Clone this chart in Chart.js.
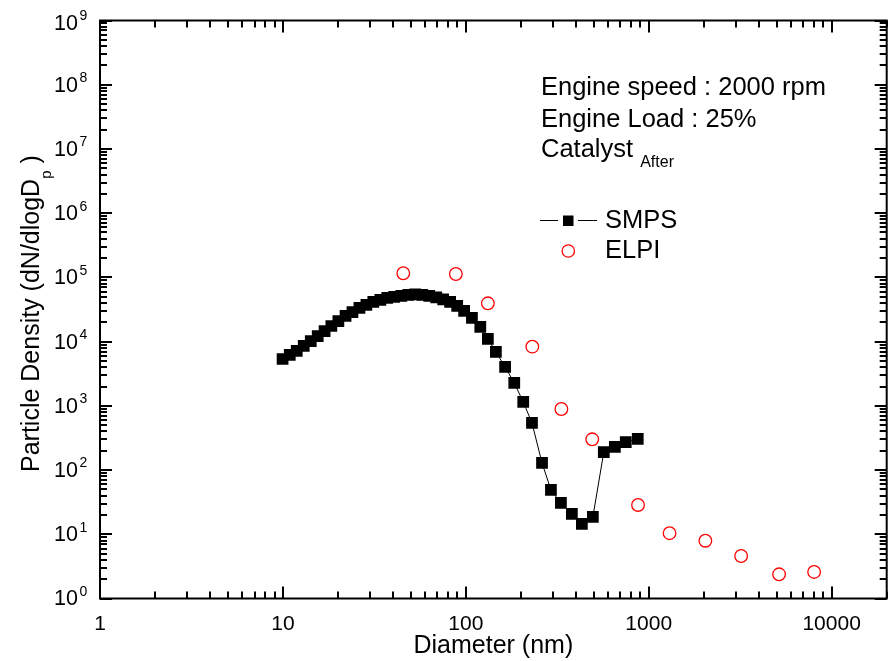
<!DOCTYPE html>
<html>
<head>
<meta charset="utf-8">
<script src="https://cdn.jsdelivr.net/npm/chart.js@4"></script>
<style>
  body { margin: 0; background: #fff; }
  #wrap { width: 895px; height: 661px; }
</style>
</head>
<body>
<div id="wrap"><canvas id="psdChart" width="895" height="661"></canvas></div>
<script>
// SMPS size distribution (nm, dN/dlogDp)
const smpsDiameter = [9.96, 10.9, 11.9, 13.0, 14.2, 15.5, 16.9, 18.4, 20.1, 22.0, 24.0, 26.2, 28.6, 31.2, 34.1,
    37.2, 40.6, 44.4, 48.5, 52.9, 57.8, 63.1, 68.9, 75.2, 82.1, 89.7, 97.9, 108, 120, 132, 146, 164, 184,
    206, 230, 261, 292, 331, 380, 431, 495, 568, 653, 749, 871];
const smpsDensity = [5360, 6190, 7150, 8550, 10200, 12200, 14600, 17500, 20900, 25100, 28900, 33400, 37200, 41500, 44500,
    47800, 49600, 51400, 53300, 54200, 53300, 51400, 48700, 45300, 41400, 35900, 30000, 23400, 16900, 11000, 6900, 4040, 2270,
    1150, 542, 129, 49, 30.7, 20.7, 14.5, 18.6, 191, 229, 273, 305];

// ELPI stages
const elpiDiameter = [45.5, 88.2, 132, 231, 333, 491, 874, 1300, 2040, 3200, 5160, 8020];
const elpiDensity = [115900, 113000, 39500, 8340, 893, 301, 28.6, 10.4, 7.94, 4.59, 2.38, 2.59];

// axis ticks
const xTickValues = [1, 10, 100, 1000, 10000];
const xTickLabels = ['1', '10', '100', '1000', '10000'];
const yTickExponents = [0, 1, 2, 3, 4, 5, 6, 7, 8, 9];

const FONT = '"Liberation Sans", Arial, Helvetica, sans-serif';

function toPoints(xs, ys) {
    return xs.map((v, i) => ({ x: v, y: ys[i] }));
}

// frame, inward ticks, labels, notes and legend
const framePlugin = {
    id: 'framePlugin',
    afterDraw(chart) {
        const ctx = chart.ctx;
        const a = chart.chartArea;
        const xs = chart.scales.x;
        const ys = chart.scales.y;
        ctx.save();
        ctx.strokeStyle = '#000';
        ctx.fillStyle = '#000';
        ctx.lineWidth = 2;
        ctx.strokeRect(a.left, a.top, a.right - a.left, a.bottom - a.top);

        const major = 12, minor = 7;
        ctx.beginPath();
        // x ticks (bottom + top)
        for (let e = 0; e <= 4; e++) {
            for (let m = 1; m <= 9; m++) {
                const v = m * Math.pow(10, e);
                if (v > 20000) continue;
                const px = Math.round(xs.getPixelForValue(v));
                const len = m === 1 ? major : minor;
                ctx.moveTo(px, a.bottom); ctx.lineTo(px, a.bottom - len);
                ctx.moveTo(px, a.top); ctx.lineTo(px, a.top + len);
            }
        }
        // y ticks (left + right)
        for (let e = 0; e <= 9; e++) {
            for (let m = 1; m <= 9; m++) {
                if (e === 9 && m > 1) continue;
                const py = Math.round(ys.getPixelForValue(m * Math.pow(10, e)));
                const len = m === 1 ? major : minor;
                ctx.moveTo(a.left, py); ctx.lineTo(a.left + len, py);
                ctx.moveTo(a.right, py); ctx.lineTo(a.right - len, py);
            }
        }
        ctx.stroke();

        // x tick labels
        ctx.font = '21px ' + FONT;
        ctx.textAlign = 'center';
        ctx.textBaseline = 'alphabetic';
        xTickValues.forEach((v, i) => {
            ctx.fillText(xTickLabels[i], xs.getPixelForValue(v), 630);
        });

        // y tick labels 10^n
        yTickExponents.forEach(e => {
            const py = ys.getPixelForValue(Math.pow(10, e));
            const cy = Math.max(py + 1, 24);
            ctx.font = '21.5px ' + FONT;
            ctx.textAlign = 'right';
            ctx.textBaseline = 'middle';
            ctx.fillText('10', 78, cy);
            ctx.font = '14px ' + FONT;
            ctx.textAlign = 'left';
            ctx.fillText(String(e), 79.5, cy - 7.5);
        });

        // axis titles
        ctx.font = '25px ' + FONT;
        ctx.textAlign = 'center';
        ctx.textBaseline = 'alphabetic';
        ctx.fillText('Diameter (nm)', (a.left + a.right) / 2, 653);

        ctx.save();
        ctx.translate(39, 472);
        ctx.rotate(-Math.PI / 2);
        ctx.textAlign = 'left';
        ctx.font = '25px ' + FONT;
        const mainTitle = 'Particle Density (dN/dlogD';
        ctx.fillText(mainTitle, 0, 0);
        let tx = ctx.measureText(mainTitle).width;
        ctx.font = '15px ' + FONT;
        ctx.fillText('p', tx, 12);
        tx += ctx.measureText('p').width;
        ctx.font = '25px ' + FONT;
        ctx.fillText(' )', tx, 0);
        ctx.restore();

        // notes
        ctx.textAlign = 'left';
        ctx.font = '25.5px ' + FONT;
        ctx.fillText('Engine speed : 2000 rpm', 541, 95);
        ctx.fillText('Engine Load : 25%', 541, 126.5);
        ctx.fillText('Catalyst', 541, 156.5);
        const cw = ctx.measureText('Catalyst ').width;
        ctx.font = '16px ' + FONT;
        ctx.fillText('After', 541 + cw, 166.5);

        // legend
        ctx.lineWidth = 1;
        ctx.beginPath();
        ctx.moveTo(540, 220.5); ctx.lineTo(558, 220.5);
        ctx.moveTo(578, 220.5); ctx.lineTo(597, 220.5);
        ctx.stroke();
        ctx.fillRect(563, 215.5, 10.5, 10.5);
        ctx.strokeStyle = '#ff0000';
        ctx.lineWidth = 1.3;
        ctx.beginPath();
        ctx.arc(568.3, 251, 6.2, 0, Math.PI * 2);
        ctx.stroke();
        ctx.font = '25.5px ' + FONT;
        ctx.textBaseline = 'middle';
        ctx.fillText('SMPS', 605, 221);
        ctx.fillText('ELPI', 605, 251);
        ctx.restore();
    }
};

const ctx = document.getElementById('psdChart').getContext('2d');
const psdChart = new Chart(ctx, {
    type: 'scatter',
    data: {
        datasets: [
            {
                label: 'ELPI',
                data: toPoints(elpiDiameter, elpiDensity),
                showLine: false,
                pointStyle: 'circle',
                pointRadius: 6.3,
                pointBorderWidth: 1.3,
                pointBorderColor: '#ff0000',
                pointBackgroundColor: 'rgba(0,0,0,0)'
            },
            {
                label: 'SMPS',
                data: toPoints(smpsDiameter, smpsDensity),
                showLine: true,
                borderColor: '#000',
                borderWidth: 1,
                pointStyle: 'rect',
                pointRadius: 8.3,
                pointBorderWidth: 0,
                pointBackgroundColor: '#000'
            }
        ]
    },
    options: {
        responsive: false,
        animation: false,
        layout: { padding: { left: 100, right: 8, top: 20.5, bottom: 62.5 } },
        plugins: { legend: { display: false }, tooltip: { enabled: false } },
        scales: {
            x: { type: 'logarithmic', min: 1, max: 20000, display: false },
            y: { type: 'logarithmic', min: 1, max: 1e9, display: false }
        }
    },
    plugins: [framePlugin]
});
</script>
</body>
</html>
